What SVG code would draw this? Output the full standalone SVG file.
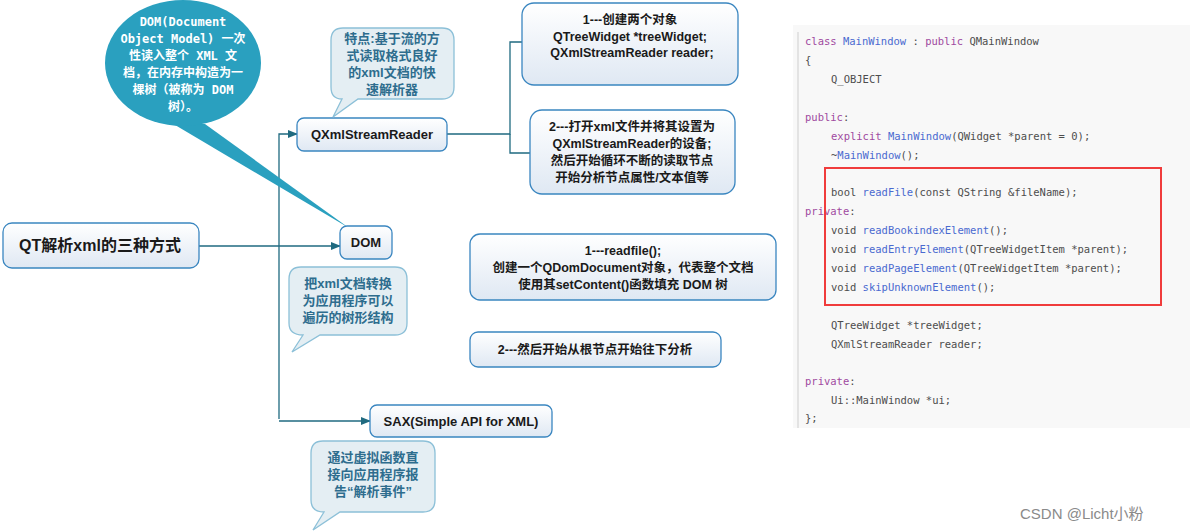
<svg xmlns="http://www.w3.org/2000/svg" width="1190" height="532" viewBox="0 0 1190 532">
<defs>
<linearGradient id="bg" x1="0" y1="0" x2="0" y2="1"><stop offset="0" stop-color="#ffffff"/><stop offset="1" stop-color="#dfe8f3"/></linearGradient>
<marker id="ar" viewBox="0 0 10 10" refX="9" refY="5" markerWidth="8" markerHeight="8" orient="auto"><path d="M0,1 L10,5 L0,9 z" fill="#1f6a80"/></marker>
<style>
.box{fill:url(#bg);stroke:#3a86c0;stroke-width:1.3}
.t{font-family:"Liberation Sans","Noto Sans CJK SC",sans-serif;font-weight:bold;fill:#1a1a1a;text-anchor:middle}
.call{fill:#e4eef3;stroke:#8cc0d8;stroke-width:1.3}
.ct{font-family:"Liberation Sans","Noto Sans CJK SC",sans-serif;font-weight:bold;fill:#2e6d8e;font-size:13px;text-anchor:middle}
.ln{fill:none;stroke:#1f6a80;stroke-width:1.3}
.code{font-family:"DejaVu Sans Mono",monospace;font-size:10.5px;fill:#4d4d4d}
.k{fill:#a04aa0}.f{fill:#4a6ad0}
</style>
</defs>
<g id="connectors">
<path class="ln" d="M199,246 H340" marker-end="url(#ar)"/>
<path class="ln" d="M279,419 V134 H297" marker-end="url(#ar)"/>
<path class="ln" d="M279,421 H370" marker-end="url(#ar)"/>
<path class="ln" d="M447,134 H510 V42 H540" marker-end="url(#ar)"/>
<path class="ln" d="M510,134 V153 H540" marker-end="url(#ar)"/>
</g>
<g id="bubble-dom">
<path d="M170,122 L349,228 L205,124 z" fill="#2aa0bf"/>
<ellipse cx="183" cy="63" rx="78" ry="63" fill="#2aa0bf"/>
<g font-family="'DejaVu Sans Mono','Noto Sans CJK SC',monospace" font-weight="bold" font-size="12" fill="#fff" text-anchor="middle">
<text x="183" y="26">DOM(Document</text>
<text x="183" y="43">Object Model) 一次</text>
<text x="183" y="60">性读入整个 XML 文</text>
<text x="183" y="77">档，在内存中构造为一</text>
<text x="183" y="94">棵树（被称为 DOM</text>
<text x="183" y="111">树）。</text>
</g>
</g>
<g id="qt"><rect class="box" x="3" y="223" width="196" height="45" rx="9"/><text class="t" x="100" y="251" font-size="16">QT解析xml的三种方式</text></g>
<g id="dom"><rect class="box" x="340" y="226" width="52" height="33" rx="7"/><text class="t" x="366" y="247" font-size="13">DOM</text></g>
<g id="qxml"><rect class="box" x="297" y="118" width="150" height="33" rx="7"/><text class="t" x="372" y="139" font-size="13">QXmlStreamReader</text></g>
<g id="sax"><rect class="box" x="370" y="405" width="182" height="32" rx="7"/><text class="t" x="461" y="426" font-size="13">SAX(Simple API for XML)</text></g>
<g id="s1"><rect class="box" x="522" y="3" width="216" height="82" rx="12"/>
<text class="t" font-size="12.5"><tspan x="630" y="24">1---创建两个对象</tspan><tspan x="630" y="41">QTreeWidget *treeWidget;</tspan><tspan x="632" y="57">QXmlStreamReader reader;</tspan></text></g>
<g id="s2"><rect class="box" x="530" y="110" width="205" height="84" rx="12"/>
<text class="t" font-size="12.5"><tspan x="632" y="131">2---打开xml文件并将其设置为</tspan><tspan x="632" y="148">QXmlStreamReader的设备;</tspan><tspan x="632" y="165">然后开始循环不断的读取节点</tspan><tspan x="632" y="182">开始分析节点属性/文本值等</tspan></text></g>
<g id="d1"><rect class="box" x="470" y="234" width="306" height="66" rx="10"/>
<text class="t" font-size="12.5"><tspan x="623" y="255">1---readfile();</tspan><tspan x="623" y="272">创建一个QDomDocument对象，代表整个文档</tspan><tspan x="623" y="289">使用其setContent()函数填充 DOM 树</tspan></text></g>
<g id="d2"><rect class="box" x="470" y="332" width="251" height="35" rx="8"/><text class="t" x="595" y="354" font-size="12.5">2---然后开始从根节点开始往下分析</text></g>
<g id="c1"><path class="call" d="M343,28 H442 Q454,28 454,40 V87 Q454,99 442,99 H358 L333,117 L342,99 Q331,99 331,87 V40 Q331,28 343,28 z"/>
<text class="ct"><tspan x="392" y="43">特点:基于流的方</tspan><tspan x="392" y="60">式读取格式良好</tspan><tspan x="392" y="77">的xml文档的快</tspan><tspan x="392" y="94">速解析器</tspan></text></g>
<g id="c2"><path class="call" d="M301,267 H395 Q407,267 407,279 V323 Q407,335 395,335 H320 L292,352 L303,335 Q289,335 289,323 V279 Q289,267 301,267 z"/>
<text class="ct"><tspan x="348" y="288">把xml文档转换</tspan><tspan x="348" y="305">为应用程序可以</tspan><tspan x="348" y="322">遍历的树形结构</tspan></text></g>
<g id="c3"><path class="call" d="M323,441 H423 Q435,441 435,453 V500 Q435,512 423,512 H340 L313,530 L324,512 Q311,512 311,500 V453 Q311,441 323,441 z"/>
<text class="ct"><tspan x="373" y="462">通过虚拟函数直</tspan><tspan x="373" y="479">接向应用程序报</tspan><tspan x="373" y="496">告“解析事件”</tspan></text></g>
<g id="code">
<rect x="793" y="25" width="397" height="403" fill="#f8f8f8"/>
<line x1="798" y1="32" x2="798" y2="428" stroke="#dddddd" stroke-width="1.5"/>
<g class="code">
<text x="805" y="45"><tspan class="k">class</tspan> <tspan class="f">MainWindow</tspan> : <tspan class="k">public</tspan> QMainWindow</text>
<text x="805" y="64">{</text>
<text x="831" y="83">Q_OBJECT</text>
<text x="805" y="121"><tspan class="k">public</tspan>:</text>
<text x="831" y="140"><tspan class="k">explicit</tspan> <tspan class="f">MainWindow</tspan>(QWidget *parent = 0);</text>
<text x="831" y="159">~<tspan class="f">MainWindow</tspan>();</text>
<text x="831" y="196">bool <tspan class="f">readFile</tspan>(const QString &amp;fileName);</text>
<text x="805" y="215"><tspan class="k">private</tspan>:</text>
<text x="831" y="234">void <tspan class="f">readBookindexElement</tspan>();</text>
<text x="831" y="253">void <tspan class="f">readEntryElement</tspan>(QTreeWidgetItem *parent);</text>
<text x="831" y="272">void <tspan class="f">readPageElement</tspan>(QTreeWidgetItem *parent);</text>
<text x="831" y="291">void <tspan class="f">skipUnknownElement</tspan>();</text>
<text x="831" y="329">QTreeWidget *treeWidget;</text>
<text x="831" y="348">QXmlStreamReader reader;</text>
<text x="805" y="385"><tspan class="k">private</tspan>:</text>
<text x="831" y="404">Ui::MainWindow *ui;</text>
<text x="805" y="422">};</text>
</g>
<rect x="825" y="168" width="336" height="137" fill="none" stroke="#f03c3c" stroke-width="2"/>
</g>
<text x="1020" y="519" font-family="'Liberation Sans','Noto Sans CJK SC',sans-serif" font-size="15" fill="#8a8a8a">CSDN @Licht小粉</text>
</svg>
